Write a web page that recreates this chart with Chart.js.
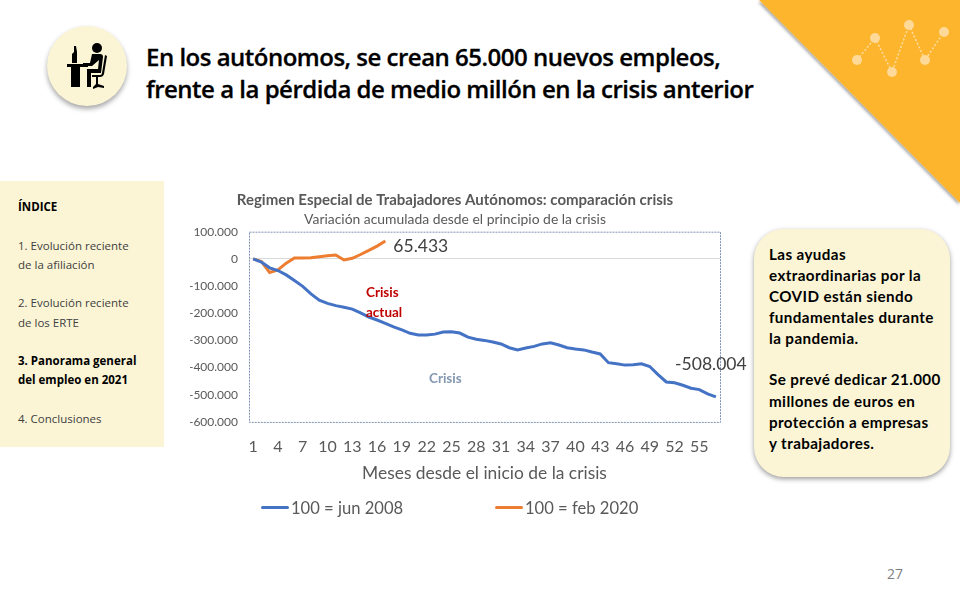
<!DOCTYPE html>
<html lang="es">
<head>
<meta charset="utf-8">
<title>Autónomos: comparación crisis</title>
<script src="https://cdn.jsdelivr.net/npm/chart.js@4/dist/chart.umd.min.js"></script>
<style>
  html, body { margin: 0; padding: 0; background: #fff; }
  body { width: 960px; height: 600px; position: relative; overflow: hidden; font-family: Lato, sans-serif; }
  .abs { position: absolute; }
  #deco { left: 0; top: 0; }
  #headline { left: 146px; top: 41px; font: 600 24px/32px "Open Sans", sans-serif; color: #000; letter-spacing: -0.5px; white-space: nowrap; -webkit-text-stroke: 0.3px #000; }
  #badge { left: 47px; top: 26px; width: 80px; height: 80px; border-radius: 50%; background: #fbf5d6; box-shadow: 0 3px 5px rgba(0,0,0,.35); }
  #index { left: 0; top: 181px; width: 164px; height: 266px; background: #fbf5d6; font: 11.5px/19.3px "Open Sans", sans-serif; color: #404040; }
  #index div { position: absolute; left: 18px; white-space: nowrap; }
  #index b { color: #000; }
  #note { left: 754px; top: 229px; width: 196px; height: 248px; border-radius: 30px; background: #fbf5d6; box-shadow: 0 2px 5px rgba(0,0,0,.4); font: 700 15.2px/21.2px Lato, sans-serif; color: #000; letter-spacing: .4px; }
  #note div { position: absolute; left: 15px; white-space: nowrap; }
  #page { left: 887px; top: 564px; font: 14px "Open Sans", sans-serif; color: #7f7f7f; }
  #chart-wrap { left: 160px; top: 185px; }
  .tag { font: 700 13.5px/20px Lato, sans-serif; }
  .key { top: 497px; font: 16.6px/22px Lato, sans-serif; color: #595959; white-space: nowrap; }
  .key i { display: inline-block; width: 28px; height: 3px; border-radius: 2px; margin-right: 2px; vertical-align: 5px; }
</style>
</head>
<body>
<svg id="deco" class="abs" width="960" height="600">
  <defs><filter id="sh" x="-10%" y="-10%" width="120%" height="120%"><feDropShadow dx="-1" dy="2" stdDeviation="1.5" flood-color="#000" flood-opacity=".35"/></filter></defs>
  <polygon points="759,0 960,0 960,203" fill="#fdb52f" filter="url(#sh)"/>
  <polyline points="857,60 875,38 892,72 909,25 925,60 944,32" fill="none" stroke="#fedd9f" stroke-width="1.5" stroke-dasharray="2 2"/>
  <g fill="#fed998">
    <circle cx="857" cy="60" r="5"/><circle cx="875" cy="38" r="5"/><circle cx="892" cy="72" r="5"/>
    <circle cx="909" cy="25" r="5"/><circle cx="925" cy="60" r="5"/><circle cx="944" cy="32" r="5"/>
  </g>
</svg>

<div id="badge" class="abs"></div>
<svg class="abs" style="left:0;top:0" width="130" height="110" viewBox="0 0 130 110">
  <g fill="#000">
    <circle cx="97" cy="48" r="5"/>
    <path d="M92 54 h8 q3 0 3 3 l-2 16 h-10 v14 h-4 v-18 h11 l1 -9 -7 6 h-9 v-3 h7 z"/>
    <path d="M105 55 l2 1 -3 18 q-1 3 -4 3 h-8 v-2 h8 q2 0 2 -2 z"/>
    <path d="M96 77 h2 v7 l6 2 v2 l-6 -1 -5 2 v-2 l3 -3 z"/>
    <path d="M67 64 h21 v3 h-8 v20 h-9 v-20 h-4 z"/>
    <path d="M74 46 h2 l1 6 v11 h-5 v-9 l2 -2 z"/>
  </g>
</svg>

<div id="headline" class="abs">En los autónomos, se crean 65.000 nuevos empleos,<br>frente a la pérdida de medio millón en la crisis anterior</div>

<div id="index" class="abs">
  <div style="top:16px"><b style="font-weight:700">ÍNDICE</b></div>
  <div style="top:55px">1. Evolución reciente</div>
  <div style="top:74px">de la afiliación</div>
  <div style="top:112px">2. Evolución reciente</div>
  <div style="top:132px">de los ERTE</div>
  <div style="top:170px"><b>3. Panorama general</b></div>
  <div style="top:189px"><b>del empleo en 2021</b></div>
  <div style="top:228px">4. Conclusiones</div>
</div>

<div id="note" class="abs">
  <div style="top:15px">Las ayudas</div>
  <div style="top:36px">extraordinarias por la</div>
  <div style="top:57px">COVID están siendo</div>
  <div style="top:78px">fundamentales durante</div>
  <div style="top:99px">la pandemia.</div>
  <div style="top:140px">Se prevé dedicar 21.000</div>
  <div style="top:162px">millones de euros en</div>
  <div style="top:183px">protección a empresas</div>
  <div style="top:204px">y trabajadores.</div>
</div>

<div id="page" class="abs">27</div>

<div id="chart-wrap" class="abs"><canvas id="chart" width="590" height="345"></canvas></div>
<div class="abs tag" style="left:366px;top:282px;color:#c00000">Crisis<br>actual</div>
<div class="abs tag" style="left:429px;top:368px;color:#8497b0">Crisis</div>
<div id="key-0" class="abs key" style="left:261px"></div>
<div id="key-1" class="abs key" style="left:495px"></div>

<script>
"use strict";

// ─── Data ──────────────────────────────────────────────────────────────────
const MONTHS = [
  1, 2, 3, 4, 5, 6, 7, 8, 9, 10, 11, 12, 13, 14, 15, 16, 17, 18, 19,
  20, 21, 22, 23, 24, 25, 26, 27, 28, 29, 30, 31, 32, 33, 34, 35, 36, 37, 38,
  39, 40, 41, 42, 43, 44, 45, 46, 47, 48, 49, 50, 51, 52, 53, 54, 55, 56, 57,
];
const CRISIS_2008 = [
  0, -12000, -33000, -43000, -59000, -80000, -101000, -129000, -152000, -164000,
  -172000, -178000, -185000, -199000, -214000, -225000, -237000, -250000, -261000, -274000,
  -280000, -280000, -277000, -269000, -268000, -273000, -288000, -296000, -300000, -306000,
  -313000, -327000, -335000, -328000, -322000, -313000, -309000, -317000, -327000, -332000,
  -335000, -343000, -350000, -382000, -386000, -391000, -390000, -386000, -396000, -426000,
  -453000, -456000, -465000, -476000, -481000, -497000, -508004,
];
const CRISIS_2020 = [
  0, -10000, -50000, -41000, -16000, 3000, 3000, 4000, 8000, 11000,
  14000, -4000, 2000, 16000, 31000, 47000, 65433,
];
const SERIES_NAMES = ["100 = jun 2008", "100 = feb 2020"];
const SERIES_COLOURS = ["#4472c4", "#ed7d31"];
const Y_MIN = -600000;
const Y_MAX = 100000;
const Y_STEP = 100000;

// ─── Helpers ───────────────────────────────────────────────────────────────
const fmtEs = v => String(v).replace(/\B(?=(\d{3})+$)/g, ".");
const TEXT_GREY = "#595959";

// Dotted frame around the plot area and the two end-of-line value labels
const slidePlugin = {
  id: "slideExtras",
  afterDraw(chart) {
    const { ctx, chartArea: a } = chart;
    ctx.save();
    ctx.strokeStyle = "#7f93b2";
    ctx.lineWidth = 1;
    ctx.setLineDash([2, 1]);
    ctx.strokeRect(a.left + 0.5, a.top + 0.5, a.right - a.left, a.bottom - a.top);
    ctx.setLineDash([]);
    ctx.fillStyle = "#404040";
    ctx.font = "17.5px Lato, sans-serif";
    ctx.textBaseline = "middle";
    const blue = chart.getDatasetMeta(0).data.at(-1);
    const orange = chart.getDatasetMeta(1).data.at(-1);
    ctx.textAlign = "center";
    ctx.fillText(fmtEs(CRISIS_2008.at(-1)), blue.x - 5, blue.y - 33);
    ctx.textAlign = "left";
    ctx.fillText(fmtEs(CRISIS_2020.at(-1)), orange.x + 8, orange.y + 5);
    ctx.restore();
  },
};

const chart = new Chart(document.getElementById("chart").getContext("2d"), {
  type: "line",
  data: {
    labels: MONTHS,
    datasets: [
      { label: SERIES_NAMES[0], data: CRISIS_2008, borderColor: SERIES_COLOURS[0], borderWidth: 3, pointRadius: 0, tension: 0 },
      { label: SERIES_NAMES[1], data: CRISIS_2020, borderColor: SERIES_COLOURS[1], borderWidth: 3, pointRadius: 0, tension: 0 },
    ],
  },
  plugins: [slidePlugin],
  options: {
    responsive: false,
    animation: false,
    layout: { padding: { left: 30, right: 30, top: 6, bottom: 46 } },
    plugins: {
      title: {
        display: true,
        text: "Regimen Especial de Trabajadores Autónomos: comparación crisis",
        color: TEXT_GREY,
        font: { family: "Lato, sans-serif", size: 15, weight: "bold" },
        padding: { top: 0, bottom: 0 },
      },
      subtitle: {
        display: true,
        text: "Variación acumulada desde el principio de la crisis",
        color: TEXT_GREY,
        font: { family: "Lato, sans-serif", size: 13.9, weight: "normal" },
        padding: { top: 2, bottom: 4 },
      },
      legend: { display: false },
      tooltip: { enabled: false },
    },
    scales: {
      x: {
        offset: true,
        grid: { display: false },
        border: { display: false },
        title: {
          display: true,
          text: "Meses desde el inicio de la crisis",
          color: TEXT_GREY,
          font: { family: "Lato, sans-serif", size: 17.4 },
          padding: { top: 0, bottom: 0 },
        },
        ticks: {
          autoSkip: false,
          maxRotation: 0,
          padding: 7,
          color: TEXT_GREY,
          font: { family: "Lato, sans-serif", size: 16 },
          callback(value, index) { return index % 3 === 0 ? this.getLabelForValue(value) : ""; },
        },
      },
      y: {
        min: Y_MIN,
        max: Y_MAX,
        afterFit(scale) { scale.width = 59; },
        grid: {
          drawTicks: false,
          color: ctx => (ctx.tick.value === 0 ? "#d9d9d9" : "transparent"),
        },
        border: { display: false },
        ticks: {
          stepSize: Y_STEP,
          padding: 11,
          color: TEXT_GREY,
          font: { family: "Lato, sans-serif", size: 12 },
          callback: v => fmtEs(v),
        },
      },
    },
  },
});

// ─── HTML legend, the reference keeps its two entries far apart ────────────
chart.data.datasets.forEach((ds, i) => {
  const swatch = document.createElement("i");
  swatch.style.background = ds.borderColor;
  const key = document.getElementById("key-" + i);
  key.appendChild(swatch);
  key.appendChild(document.createTextNode(ds.label));
});
</script>
</body>
</html>
